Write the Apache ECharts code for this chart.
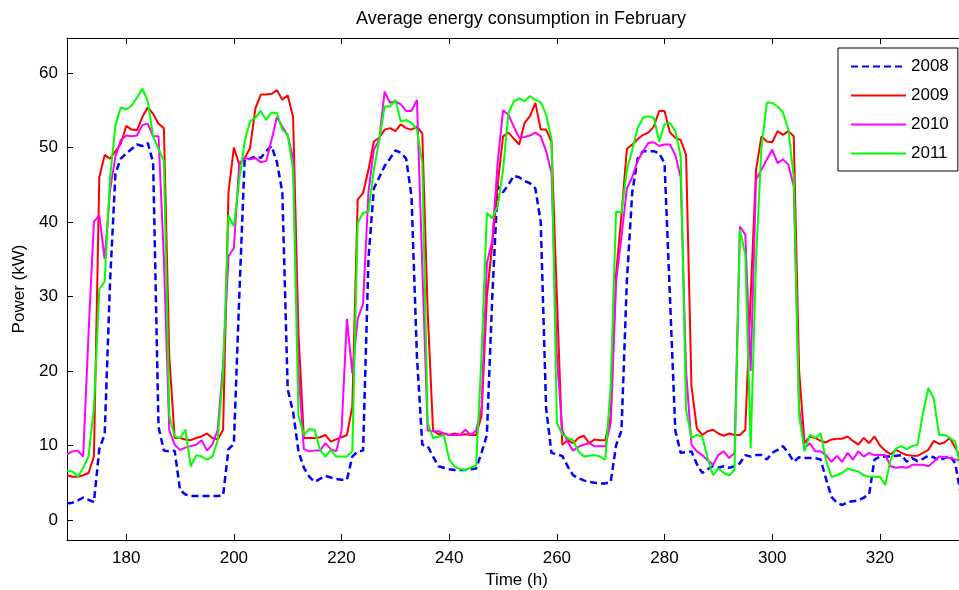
<!DOCTYPE html>
<html>
<head>
<meta charset="utf-8">
<title>Average energy consumption in February</title>
<script src="https://cdn.jsdelivr.net/npm/echarts@6/dist/echarts.min.js"></script>
<style>
    html, body { margin: 0; padding: 0; background: #fff; }
    #chart { width: 959px; height: 590px; }
</style>
</head>
<body>
<div id="chart"></div>
<script>
// hourly averages, hour 169 .. 336
var startHour = 169;
var xTicks = [180, 200, 220, 240, 260, 280, 300, 320];
var yTicks = [0, 10, 20, 30, 40, 50, 60];
var years = ['2008', '2009', '2010', '2011'];

var power2008 = [
    2.2, 2.3, 2.6, 3.0, 2.7, 2.4, 9.5, 11.5, 32, 46.5, 48.5, 49.2, 49.8, 50.4, 50.2, 50.6, 48.0, 12.5, 9.3, 9.2, 9.3, 4.0, 3.4, 3.2,
    3.2, 3.2, 3.2, 3.2, 3.2, 3.3, 9.5, 10.2, 30, 48.4, 48.5, 48.8, 48.6, 49.5, 50.2, 48, 44, 17.5, 14.5, 9.2, 7.0, 5.8, 5.1, 5.5,
    5.9, 5.7, 5.5, 5.4, 5.4, 8.5, 9.2, 9.3, 35, 44.5, 46, 47.5, 48.5, 49.6, 49.3, 48.5, 43.4, 22, 10.1, 9.9, 8.5, 7.2, 7.0, 6.8,
    6.7, 6.7, 6.7, 6.8, 6.9, 9, 11.4, 30, 44.8, 44, 45, 46.2, 46.0, 45.5, 45.2, 44.5, 40, 15, 9.0, 8.8, 8.6, 7.2, 6.0, 5.6,
    5.3, 5.1, 5.0, 4.9, 4.9, 5.1, 10, 12, 32, 44, 48.5, 49.5, 49.5, 49.5, 49.2, 47.9, 30, 12, 9.0, 9.1, 9.2, 7.5, 6.3, 6.8,
    7.2, 7.0, 7.2, 7.0, 7.2, 7.6, 8.7, 8.5, 8.7, 8.7, 8.1, 9.0, 9.4, 9.9, 9.0, 7.8, 8.4, 8.3, 8.3, 8.3, 8.1, 5.5, 3.1, 2.3,
    2.0, 2.4, 2.5, 2.6, 3.0, 3.4, 8.1, 8.5, 8.5, 8.5, 8.6, 8.7, 7.8, 8.3, 7.9, 8.2, 8.6, 8.4, 8.0, 8.3, 8.6, 7.6, 3.5, 3.0
];
var power2009 = [
    6.0, 5.8, 5.8, 6.0, 6.3, 8.5, 46.0, 49.0, 48.5, 49.5, 50.5, 52.9, 52.4, 52.3, 54.1, 55.4, 54.5, 53.2, 52.6, 22, 11.0, 11.0, 10.8, 10.7,
    11.0, 11.2, 11.6, 11.0, 10.8, 12.1, 44, 50, 47.7, 48.6, 49.9, 55.3, 57.1, 57.1, 57.2, 57.7, 56.4, 57.0, 54.1, 25, 11.0, 11.0, 11.0, 11.1,
    11.4, 10.5, 10.8, 11.1, 11.4, 15.2, 43.0, 43.9, 47.0, 50.8, 51.3, 52.4, 52.6, 52.2, 53.1, 52.6, 52.4, 52.8, 51.9, 28, 12, 11.5, 11.6, 11.4,
    11.6, 11.4, 11.5, 11.4, 11.4, 14, 30, 37, 45, 51.5, 52, 51.2, 50.4, 53.3, 54.2, 56, 52.4, 52.4, 50.8, 30, 10.1, 10.7, 10.3, 11.0,
    11.3, 10.3, 10.8, 10.7, 10.7, 14, 33, 41, 49.8, 50.4, 51.1, 51.7, 52.0, 52.8, 54.9, 54.9, 52.0, 51.3, 51.0, 49.0, 18, 12.3, 11.4, 11.9,
    12.1, 11.6, 11.3, 11.6, 11.4, 11.4, 12.1, 30, 47, 51.5, 50.8, 50.7, 52.2, 51.7, 52.2, 51.5, 20, 10.3, 11.2, 11.0, 10.6, 10.4, 10.8, 10.9,
    10.9, 11.2, 10.6, 10.1, 11.0, 10.3, 11.2, 10.0, 9.3, 8.8, 9.4, 9.0, 8.7, 8.6, 8.6, 9.0, 9.4, 10.6, 10.2, 10.4, 11.0, 9.7, 8.3, 8.0
];
var power2010 = [
    8.8, 9.2, 9.3, 8.5, 25, 40.0, 40.9, 35, 44.3, 48.8, 51.0, 51.6, 51.5, 51.6, 53.0, 53.2, 51.5, 51.5, 35, 12, 10.1, 9.4, 9.7, 9.9,
    10.1, 10.7, 9.3, 10.1, 12.1, 21, 35.4, 36.5, 47.9, 48.6, 48.4, 48.6, 48.0, 48.2, 51, 54.1, 52.8, 51.6, 48.5, 20, 9.5, 9.2, 9.3, 9.3,
    10.3, 9.5, 9.2, 12, 27, 19.7, 27, 29, 44, 49.7, 51, 57.5, 56, 56.2, 55.8, 54.9, 54.9, 56.4, 34, 12, 11.9, 11.9, 11.6, 11.4,
    11.4, 11.4, 12.1, 11.4, 12, 15, 34.5, 37.5, 48, 55, 54.4, 52.8, 51.3, 51.4, 51.6, 52, 51.5, 49.5, 46.6, 22, 12, 10.5, 9.3, 9.8,
    10.1, 10.3, 9.9, 9.9, 9.9, 13, 32, 38, 44.5, 46, 48.2, 49.5, 50.6, 50.7, 50.2, 50.4, 50.4, 49.0, 46, 20, 10.1, 9.2, 8.7, 8.0,
    7.4, 8.7, 9.2, 8.3, 9.0, 39.4, 38.3, 20, 45.7, 47, 48.4, 49.7, 47.9, 48.4, 47.7, 44.8, 15, 9.6, 10.3, 9.2, 9.2, 8.7, 7.8, 8.6,
    7.8, 9.0, 8.1, 9.2, 8.5, 9.0, 8.7, 8.7, 8.7, 7.2, 7.0, 7.1, 7.0, 7.4, 7.4, 7.4, 7.2, 7.8, 8.5, 8.4, 8.3, 8.1, 8.0, 8.0
];
var power2011 = [
    6.6, 6.5, 5.8, 7.0, 8.5, 15, 31, 32, 46, 53, 55.4, 55.1, 55.6, 56.7, 57.9, 56.2, 51.5, 49.8, 48.2, 14, 11.2, 11.0, 12.1, 7.2,
    8.7, 8.5, 8.1, 8.5, 10.7, 20, 40.9, 39.4, 45.7, 50.8, 53.5, 54.0, 54.9, 53.7, 54.7, 54.6, 52.4, 51.7, 47, 14, 11.4, 12.2, 12.1, 9.4,
    8.5, 9.4, 8.5, 8.5, 8.5, 9.2, 39.9, 41.2, 41.4, 47, 51, 55.5, 55.5, 56.4, 53.5, 53.7, 53.3, 52.4, 47.9, 13, 11.0, 11.2, 11.4, 8.1,
    7.2, 6.8, 6.7, 7.0, 7.3, 22, 41.2, 40.5, 42.1, 47, 54.6, 56.2, 56.6, 56.2, 56.9, 56.4, 56.1, 54.4, 51.1, 13, 11.5, 11, 10.7, 9.2,
    8.5, 8.6, 8.7, 8.5, 8.1, 18, 41.4, 41.2, 47, 49.7, 52.6, 54, 54.2, 54, 50.8, 53.1, 53.3, 52.2, 48.8, 14.8, 11.0, 11.4, 11.2, 8.3,
    6.0, 6.9, 6.3, 6.0, 6.7, 39, 35.6, 9.6, 35, 50, 56, 56, 55.5, 54.7, 52.4, 46, 14, 9.2, 11.4, 11.0, 11.6, 8, 5.8, 6.0,
    6.3, 6.9, 6.7, 6.5, 6.0, 5.8, 5.8, 5.8, 4.7, 8.1, 9.6, 9.9, 9.5, 9.9, 10.1, 14.3, 17.7, 16.3, 11.4, 11.4, 11.0, 10.5, 7.0, 6.5
];

var colors = ['#0000ff', '#ff0000', '#ff00ff', '#00ff00'];
var allPower = [power2008, power2009, power2010, power2011];

function pairs(values) {
    var out = [];
    for (var i = 0; i < values.length; i++) {
        out.push([startHour + i, values[i]]);
    }
    return out;
}

var chart = echarts.init(document.getElementById('chart'));
var font = 'Liberation Sans, Arial, sans-serif';

var series = [];
for (var k = 0; k < years.length; k++) {
    series.push({
        name: years[k],
        type: 'line',
        symbol: 'none',
        data: pairs(allPower[k]),
        color: colors[k],
        lineStyle: {
            color: colors[k],
            width: k == 0 ? 2.5 : 2,
            type: k == 0 ? [7, 4] : 'solid'
        },
        animation: false
    });
}

var tickStyle = { show: true, inside: true, length: 6, lineStyle: { color: '#000', width: 1 } };

var option = {
    backgroundColor: '#fff',
    animation: false,
    title: {
        text: 'Average energy consumption in February',
        left: 516,
        top: 5,
        textAlign: 'center',
        textStyle: { fontFamily: font, fontSize: 18, fontWeight: 'normal', color: '#000' }
    },
    legend: {
        orient: 'vertical',
        left: 838,
        top: 48,
        padding: [10, 9, 9, 12],
        itemGap: 12,
        itemWidth: 55,
        itemHeight: 14,
        backgroundColor: '#fff',
        borderColor: '#000',
        borderWidth: 1,
        borderRadius: 0,
        itemStyle: { opacity: 0 },
        data: years,
        textStyle: { fontFamily: font, fontSize: 17, color: '#000' }
    },
    grid: { left: 67, top: 38, width: 899, height: 502, containLabel: false, outerBoundsMode: 'none' },
    xAxis: [{
        type: 'value',
        min: 169,
        max: 336,
        position: 'bottom',
        name: 'Time (h)',
        nameLocation: 'middle',
        nameGap: 30,
        nameTextStyle: { fontFamily: font, fontSize: 17, color: '#000' },
        axisLine: { onZero: false, lineStyle: { color: '#000', width: 1 } },
        axisTick: Object.assign({ customValues: xTicks }, tickStyle),
        axisLabel: { customValues: xTicks, color: '#000', fontFamily: font, fontSize: 17, margin: 10 },
        splitLine: { show: false }
    }, {
        type: 'value',
        min: 169,
        max: 336,
        position: 'top',
        axisLine: { onZero: false, lineStyle: { color: '#000', width: 1 } },
        axisTick: Object.assign({ customValues: xTicks }, tickStyle),
        axisLabel: { show: false },
        splitLine: { show: false }
    }],
    yAxis: [{
        type: 'value',
        min: -2.7,
        max: 64.7,
        position: 'left',
        name: 'Power (kW)',
        nameLocation: 'middle',
        nameGap: 35,
        nameTextStyle: { fontFamily: font, fontSize: 17, color: '#000' },
        axisLine: { show: true, onZero: false, lineStyle: { color: '#000', width: 1 } },
        axisTick: Object.assign({ customValues: yTicks }, tickStyle),
        axisLabel: { customValues: yTicks, color: '#000', fontFamily: font, fontSize: 17, margin: 9 },
        splitLine: { show: false }
    }, {
        type: 'value',
        min: -2.7,
        max: 64.7,
        position: 'right',
        axisLine: { show: true, onZero: false, lineStyle: { color: '#000', width: 1 } },
        axisTick: Object.assign({ customValues: yTicks }, tickStyle),
        axisLabel: { show: false },
        splitLine: { show: false }
    }],
    series: series
};

chart.setOption(option);
</script>
</body>
</html>
